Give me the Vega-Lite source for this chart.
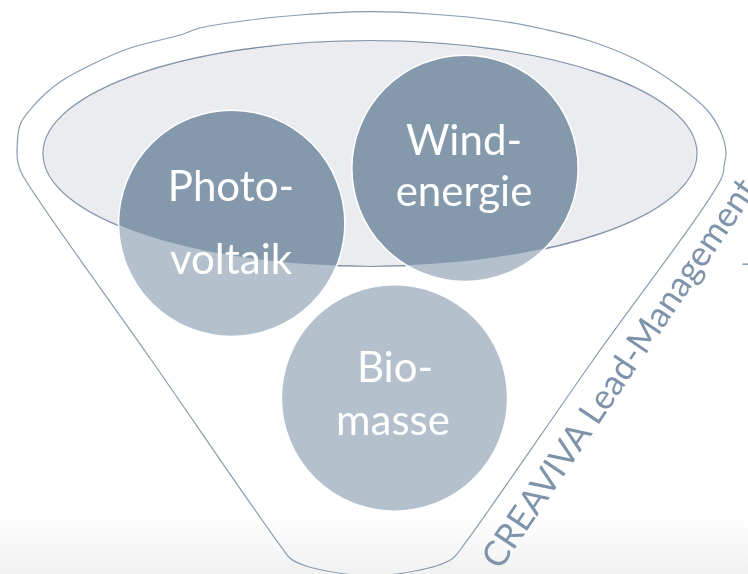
{
  "$schema": "https://vega.github.io/schema/vega-lite/v6.json",
  "width": 748,
  "height": 574,
  "autosize": {"type": "none"},
  "padding": 0,
  "background": "#ffffff",
  "config": {"view": {"stroke": null}},
  "datasets": {
    "bg": [{"x": 0, "x2": 748, "y": 515, "y2": 574}],
    "funnel": [
      {"i": 0, "x": 17, "y": 151}, {"i": 1, "x": 20, "y": 125}, {"i": 2, "x": 30, "y": 110},
      {"i": 3, "x": 45, "y": 94}, {"i": 4, "x": 63, "y": 80}, {"i": 5, "x": 97, "y": 62},
      {"i": 6, "x": 130, "y": 48}, {"i": 7, "x": 180, "y": 35}, {"i": 8, "x": 200, "y": 28},
      {"i": 9, "x": 250, "y": 20}, {"i": 10, "x": 300, "y": 15}, {"i": 11, "x": 367, "y": 11.7},
      {"i": 12, "x": 430, "y": 14}, {"i": 13, "x": 500, "y": 21}, {"i": 14, "x": 543, "y": 29},
      {"i": 15, "x": 587, "y": 40}, {"i": 16, "x": 637, "y": 60}, {"i": 17, "x": 680, "y": 87},
      {"i": 18, "x": 707, "y": 110}, {"i": 19, "x": 720, "y": 130}, {"i": 20, "x": 726, "y": 152},
      {"i": 21, "x": 724, "y": 166}, {"i": 22, "x": 722, "y": 177}, {"i": 23, "x": 591, "y": 363},
      {"i": 24, "x": 460, "y": 550}, {"i": 25, "x": 452, "y": 559}, {"i": 26, "x": 436, "y": 566},
      {"i": 27, "x": 415, "y": 571}, {"i": 28, "x": 392, "y": 574.5}, {"i": 29, "x": 371, "y": 575},
      {"i": 30, "x": 350, "y": 574.5}, {"i": 31, "x": 327, "y": 571}, {"i": 32, "x": 306, "y": 566},
      {"i": 33, "x": 291, "y": 559}, {"i": 34, "x": 282, "y": 548}, {"i": 35, "x": 152, "y": 361},
      {"i": 36, "x": 22, "y": 174}, {"i": 37, "x": 18, "y": 163}, {"i": 38, "x": 17, "y": 151}
    ],
    "ellipse": [{"x": 370, "y": 153.5}],
    "circles": [
      {"name": "Photovoltaik", "x": 231.7, "y": 223.3},
      {"name": "Windenergie", "x": 465, "y": 168.3},
      {"name": "Biomasse", "x": 394.5, "y": 398}
    ],
    "labels": [
      {"t": "Photo-", "x": 231, "y": 201},
      {"t": "voltaik", "x": 231, "y": 274},
      {"t": "Wind-", "x": 464, "y": 155},
      {"t": "energie", "x": 464, "y": 206},
      {"t": "Bio-", "x": 395, "y": 382},
      {"t": "masse", "x": 393, "y": 435}
    ],
    "watermark": [{"t": "CREAVIVA Lead-Management", "x": 500, "y": 571}],
    "dash": [{"t": "-", "x": 745, "y": 271}]
  },
  "encoding": {
    "x": {"field": "x", "type": "quantitative", "axis": null, "scale": {"domain": [0, 748], "nice": false, "zero": false}},
    "y": {"field": "y", "type": "quantitative", "axis": null, "scale": {"domain": [0, 574], "nice": false, "zero": false, "reverse": true}}
  },
  "layer": [
    {
      "data": {"name": "bg"},
      "mark": {"type": "rect", "color": {"gradient": "linear", "x1": 0, "y1": 0, "x2": 0, "y2": 1, "stops": [{"offset": 0, "color": "#ffffff"}, {"offset": 1, "color": "#f1f1f1"}]}},
      "encoding": {"x2": {"field": "x2"}, "y2": {"field": "y2"}}
    },
    {
      "data": {"name": "funnel"},
      "mark": {"type": "line", "interpolate": "catmull-rom", "stroke": "#8a9cb0", "strokeWidth": 1.2},
      "encoding": {"order": {"field": "i", "type": "quantitative"}}
    },
    {
      "data": {"name": "ellipse"},
      "mark": {"type": "point", "shape": "M-1,0A1,0.3456,0,1,1,1,0A1,0.3456,0,1,1,-1,0Z", "size": 427716, "filled": true, "opacity": 1, "fill": "#f3f4f6", "stroke": "#8497ab", "strokeWidth": 1.2}
    },
    {
      "data": {"name": "circles"},
      "mark": {"type": "point", "shape": "circle", "size": 51200, "filled": true, "opacity": 1, "fill": "#b4c1cd", "stroke": "#ffffff", "strokeWidth": 1.5}
    },
    {
      "data": {"name": "ellipse"},
      "mark": {"type": "point", "shape": "M-1,0A1,0.3456,0,1,1,1,0A1,0.3456,0,1,1,-1,0Z", "size": 424000, "filled": true, "opacity": 1, "fill": "#302d2e", "strokeWidth": 0, "blend": "overlay"}
    },
    {
      "data": {"name": "labels"},
      "mark": {"type": "text", "font": "Lato", "fontSize": 42, "align": "center", "baseline": "alphabetic", "color": "#ffffff"},
      "encoding": {"text": {"field": "t"}}
    },
    {
      "data": {"name": "watermark"},
      "mark": {"type": "text", "font": "Lato", "fontSize": 35, "align": "left", "baseline": "alphabetic", "angle": -56, "color": "#7f94aa"},
      "encoding": {"text": {"field": "t"}}
    },
    {
      "data": {"name": "dash"},
      "mark": {"type": "text", "font": "Lato", "fontSize": 22, "align": "center", "baseline": "alphabetic", "color": "#8a9cb0"},
      "encoding": {"text": {"field": "t"}}
    }
  ]
}
